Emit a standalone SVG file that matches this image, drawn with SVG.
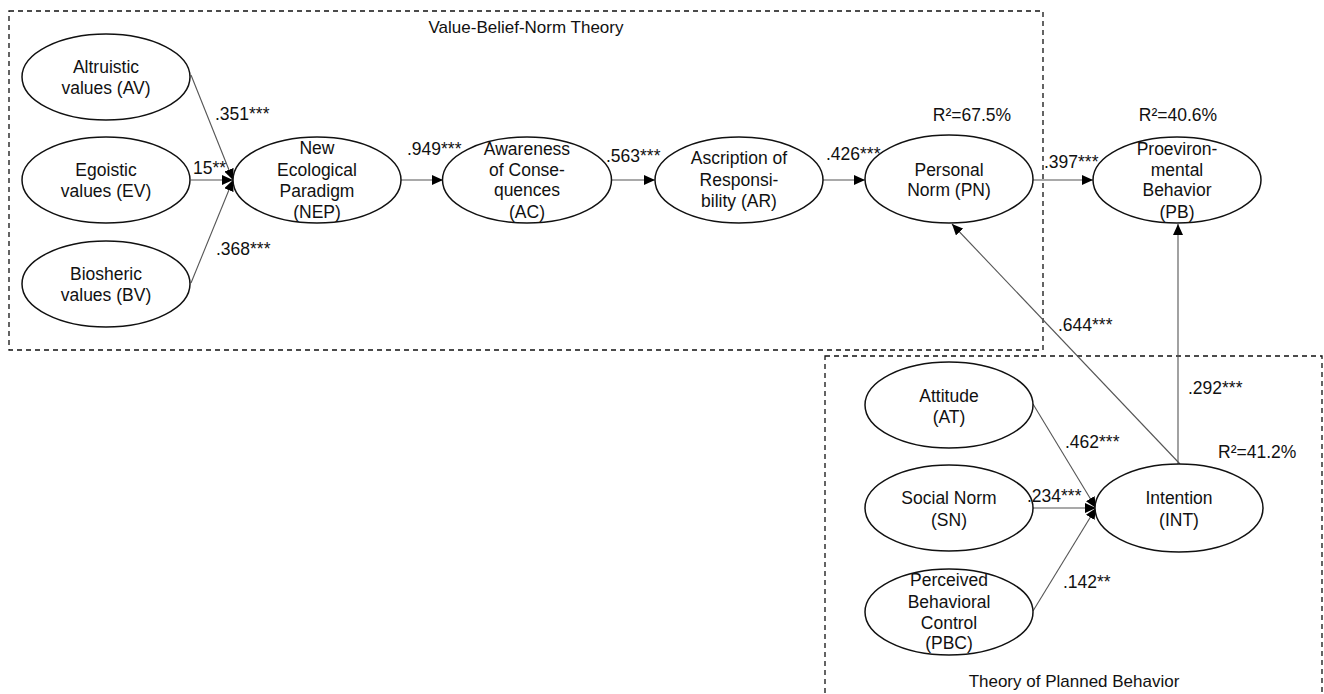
<svg xmlns="http://www.w3.org/2000/svg" width="1324" height="694" viewBox="0 0 1324 694">
<style>
text{font-family:"Liberation Sans",Arial,sans-serif;font-size:17.5px;fill:#111;text-anchor:middle}
.t{font-size:17px}
.lbl{text-anchor:start}
ellipse{fill:#fff;stroke:#111;stroke-width:1.5}
.box{fill:none;stroke:#111;stroke-width:1.3;stroke-dasharray:5 4}
.c line{stroke:#555;stroke-width:1.1;marker-end:url(#ah)}
</style>
<defs>
<marker id="ah" markerUnits="userSpaceOnUse" markerWidth="12" markerHeight="10" refX="11" refY="5" orient="auto">
<path d="M0,0 L11,5 L0,10 Z" fill="#000"/>
</marker>
</defs>
<rect width="1324" height="694" fill="#fff"/>
<g id="vbn-box">
<rect class="box" x="9" y="11" width="1034" height="339"/>
<text class="t" x="526" y="33">Value-Belief-Norm Theory</text>
</g>
<g id="tpb-box">
<rect class="box" x="825" y="356" width="497" height="360"/>
<text class="t" x="1074" y="687">Theory of Planned Behavior</text>
</g>
<g class="c" id="connectors">
<line x1="191" y1="75" x2="233" y2="180"/>
<line x1="191" y1="180" x2="233" y2="180"/>
<line x1="191" y1="283" x2="233" y2="180"/>
<line x1="401" y1="180" x2="443" y2="180"/>
<line x1="612" y1="180" x2="655" y2="180"/>
<line x1="823" y1="180" x2="865" y2="180"/>
<line x1="1033" y1="180" x2="1093" y2="180"/>
<line x1="1180" y1="464" x2="952" y2="224"/>
<line x1="1178" y1="464" x2="1178" y2="224"/>
<line x1="1033" y1="404" x2="1096" y2="508"/>
<line x1="1033" y1="508" x2="1096" y2="508"/>
<line x1="1033" y1="611" x2="1096" y2="508"/>
</g>
<g id="AV"><ellipse cx="106" cy="77" rx="84" ry="43"/><text x="106" y="73">Altruistic</text><text x="106" y="94">values (AV)</text></g>
<g id="EV"><ellipse cx="106" cy="180" rx="84" ry="43"/><text x="106" y="176">Egoistic</text><text x="106" y="197">values (EV)</text></g>
<g id="BV"><ellipse cx="106" cy="284" rx="84" ry="43"/><text x="106" y="280">Biosheric</text><text x="106" y="301">values (BV)</text></g>
<g id="NEP"><ellipse cx="317" cy="180" rx="84" ry="43"/><text x="317" y="154">New</text><text x="317" y="176">Ecological</text><text x="317" y="197">Paradigm</text><text x="317" y="218">(NEP)</text></g>
<g id="AC"><ellipse cx="527" cy="180" rx="84.5" ry="43"/><text x="527" y="155">Awareness</text><text x="527" y="176">of Conse-</text><text x="527" y="196">quences</text><text x="527" y="218">(AC)</text></g>
<g id="AR"><ellipse cx="739" cy="180" rx="84" ry="43"/><text x="739" y="164">Ascription of</text><text x="739" y="186">Responsi-</text><text x="739" y="207">bility (AR)</text></g>
<g id="PN"><ellipse cx="949" cy="179" rx="84" ry="44"/><text x="949" y="176">Personal</text><text x="949" y="196">Norm (PN)</text><text x="972" y="121">R²=67.5%</text></g>
<g id="PB"><ellipse cx="1177" cy="180" rx="84" ry="43"/><text x="1177" y="155">Proeviron-</text><text x="1177" y="176">mental</text><text x="1177" y="196">Behavior</text><text x="1177" y="218">(PB)</text><text x="1178" y="121">R²=40.6%</text></g>
<g id="AT"><ellipse cx="949" cy="405" rx="84" ry="43"/><text x="949" y="402">Attitude</text><text x="949" y="423">(AT)</text></g>
<g id="SN"><ellipse cx="949" cy="508" rx="84" ry="43"/><text x="949" y="504">Social Norm</text><text x="949" y="526">(SN)</text></g>
<g id="PBC"><ellipse cx="949" cy="612" rx="84" ry="43"/><text x="949" y="586">Perceived</text><text x="949" y="608">Behavioral</text><text x="949" y="629">Control</text><text x="949" y="649">(PBC)</text></g>
<g id="INT"><ellipse cx="1179" cy="508" rx="84" ry="44"/><text x="1179" y="504">Intention</text><text x="1179" y="526">(INT)</text><text class="lbl" x="1218" y="458">R²=41.2%</text></g>
<g id="edge-labels">
<text class="lbl" x="215" y="120">.351***</text>
<text class="lbl" x="193" y="174">15**</text>
<text class="lbl" x="216" y="255">.368***</text>
<text class="lbl" x="407" y="155">.949***</text>
<text class="lbl" x="606" y="162">.563***</text>
<text class="lbl" x="826" y="160">.426***</text>
<text class="lbl" x="1044" y="168">.397***</text>
<text class="lbl" x="1058" y="331">.644***</text>
<text class="lbl" x="1188" y="394">.292***</text>
<text class="lbl" x="1065" y="448">.462***</text>
<text class="lbl" x="1027" y="502">.234***</text>
<text class="lbl" x="1063" y="588">.142**</text>
</g>
</svg>
